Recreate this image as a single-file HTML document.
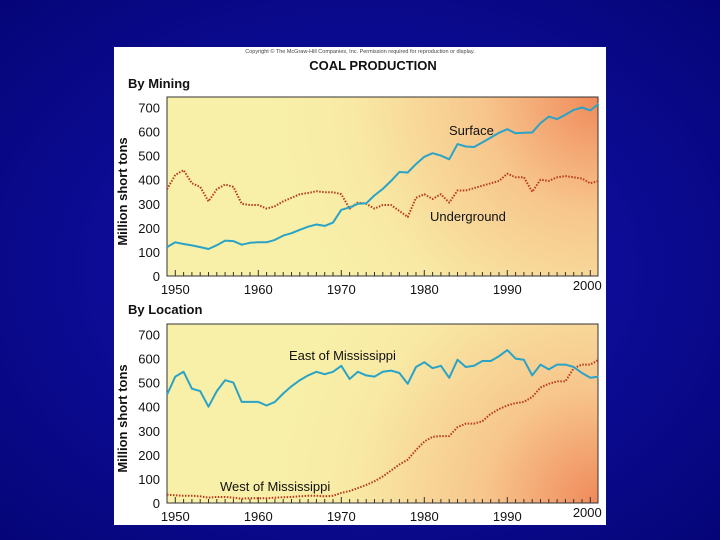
<!DOCTYPE html>
<html><head><meta charset="utf-8"><style>
html,body{margin:0;padding:0;width:720px;height:540px;overflow:hidden;}
body{background:radial-gradient(ellipse at 50% 50%,#1a1aa8 0%,#0c0c96 50%,#050578 100%);font-family:"Liberation Sans",sans-serif;}
#panel{position:absolute;left:114px;top:47px;width:492px;height:478px;background:#fff;}
svg{position:absolute;left:0;top:0;}
</style></head><body>
<div id="panel"></div>
<svg id="chart" width="720" height="540">
<defs>
<radialGradient id="g1" cx="598" cy="97" r="330" gradientUnits="userSpaceOnUse">
<stop offset="0" stop-color="#f08a5c"/><stop offset="0.35" stop-color="#f7c68c"/><stop offset="0.75" stop-color="#f8eaa5"/><stop offset="1" stop-color="#f8f0a8"/></radialGradient>
<radialGradient id="g2" cx="598" cy="503" r="330" gradientUnits="userSpaceOnUse">
<stop offset="0" stop-color="#f08a5c"/><stop offset="0.35" stop-color="#f7c68c"/><stop offset="0.75" stop-color="#f8eaa5"/><stop offset="1" stop-color="#f8f0a8"/></radialGradient>
</defs>
<text x="360" y="53" font-size="5.5" text-anchor="middle" fill="#444">Copyright © The McGraw-Hill Companies, Inc. Permission required for reproduction or display.</text>
<text x="373" y="70" font-size="13" font-weight="bold" text-anchor="middle" fill="#111">COAL PRODUCTION</text>
<text x="128" y="88" font-size="13" font-weight="bold" fill="#111">By Mining</text>
<text x="128" y="314" font-size="13" font-weight="bold" fill="#111">By Location</text>
<g id="top"></g><g id="bot"></g>
</svg>
<script>
const years=[];for(let y=1949;y<=2001;y++)years.push(y);
const yTicks=[0,100,200,300,400,500,600,700];
const xTickLabels=[1950,1960,1970,1980,1990,2000];
const surface=[120,140,133,127,120,112,128,147,145,130,138,140,140,150,168,178,192,205,214,208,222,275,285,300,302,335,362,395,432,430,465,495,510,500,485,548,538,536,555,575,595,610,593,595,596,635,662,652,670,690,700,688,715];
const underground=[360,420,440,385,370,310,360,380,370,300,295,295,280,290,310,325,340,345,352,348,348,340,280,305,300,280,295,295,270,245,325,340,320,340,305,355,355,365,375,385,395,425,410,410,350,400,395,410,415,410,405,385,395];
const east=[450,525,545,475,465,400,465,510,500,420,420,420,405,420,455,485,510,530,545,535,545,570,515,545,530,525,545,550,540,495,565,585,560,570,520,595,565,570,590,590,610,635,600,595,530,575,555,575,575,565,540,520,525];
const west=[35,32,30,30,28,22,25,25,22,18,20,20,20,22,24,25,28,30,30,28,30,42,50,62,75,90,110,135,160,180,220,255,275,278,278,315,330,330,340,370,390,405,415,420,440,480,495,505,505,560,575,575,595];
const NS='http://www.w3.org/2000/svg';
function mk(p,t,a){const e=document.createElementNS(NS,t);for(const k in a)e.setAttribute(k,a[k]);p.appendChild(e);return e;}
const x=v=>167+(v-1949)*8.3;
function drawPanel(g,top,bottom,fill,series,labels,prefix){
  const yS=v=>bottom-v*(bottom-(bottom-168.5))/700;
  const bg=mk(g,'rect',{x:167,y:top,width:431,height:bottom-top,fill:fill,stroke:'#333','stroke-width':1});
  
  
  yTicks.forEach(t=>{const tx=mk(g,'text',{x:160,y:yS(t)+5,'font-size':13,'text-anchor':'end',fill:'#111'});tx.textContent=t;
    
    });
  years.forEach(yr=>{if(yr>=1950&&yr<=2000){const tk=mk(g,'line',{x1:x(yr),x2:x(yr),y1:bottom,y2:bottom-(yr%10===0?6:4),stroke:'#333','stroke-width':1});
    
    }});
  xTickLabels.forEach(t=>{const tx=mk(g,'text',{x:x(t)+(t===2000?-3:0),y:bottom+(t===2000?14:18),'font-size':13,'text-anchor':'middle',fill:'#111'});tx.textContent=t;
    
    });
  const at=mk(g,'text',{transform:`translate(127,${(top+bottom)/2+5}) rotate(-90)`,'font-size':13,'font-weight':'bold','text-anchor':'middle',fill:'#111'});
  at.textContent='Million short tons';
  
  
  series.forEach(s=>{const d=s.vals.map((v,i)=>(i?'L':'M')+x(years[i]).toFixed(1)+','+yS(v).toFixed(1)).join('');
    const p=mk(g,'path',{d:d,fill:'none',stroke:s.color,'stroke-width':s.dash?2:2,'stroke-dasharray':s.dash?'1.5,1.5':'none','stroke-linejoin':'round'});
    
    });
  labels.forEach(l=>{const tx=mk(g,'text',{x:l.x,y:l.y,'font-size':13,fill:'#111'});tx.textContent=l.t;
    
    });
}
drawPanel(document.getElementById('top'),97,276,'url(#g1)',
 [{vals:underground,color:'#b83a1e',dash:true,name:'underground-line'},{vals:surface,color:'#2aa3c6',dash:false,name:'surface-line'}],
 [{t:'Surface',x:449,y:135,n:'surface-label'},{t:'Underground',x:430,y:221,n:'underground-label'}],'top');
drawPanel(document.getElementById('bot'),324,503,'url(#g2)',
 [{vals:west,color:'#b83a1e',dash:true,name:'west-line'},{vals:east,color:'#2aa3c6',dash:false,name:'east-line'}],
 [{t:'East of Mississippi',x:289,y:360,n:'east-label'},{t:'West of Mississippi',x:220,y:491,n:'west-label'}],'bot');
</script>
</body></html>
